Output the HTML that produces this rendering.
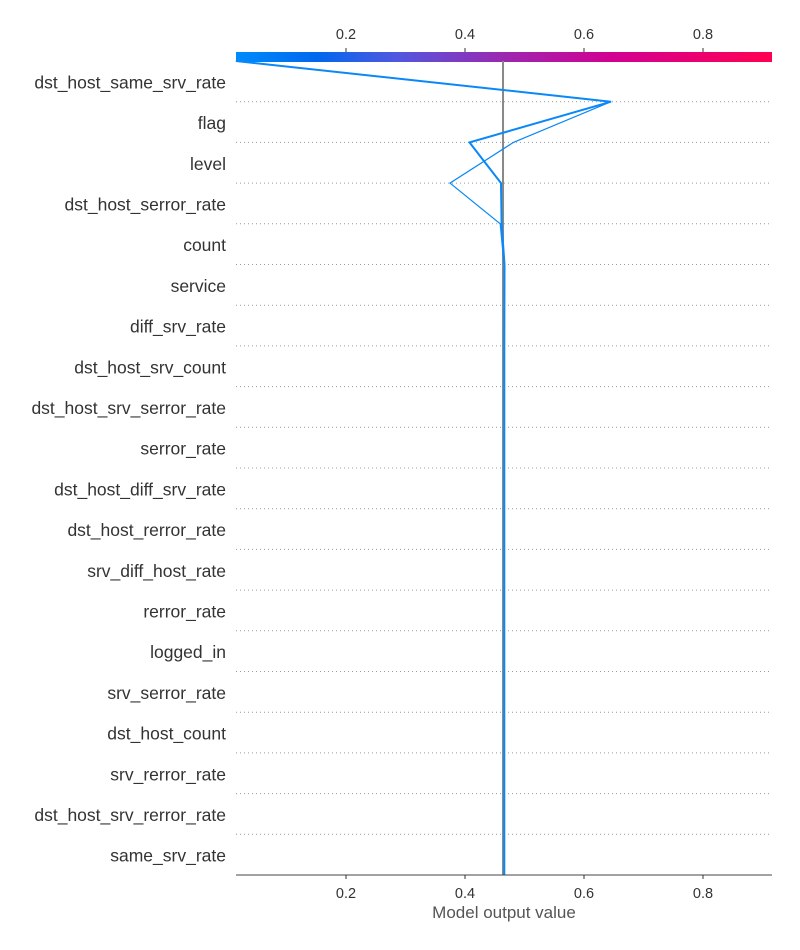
<!DOCTYPE html>
<html><head><meta charset="utf-8"><style>
html,body{margin:0;padding:0;background:#fff;}
svg{display:block;font-family:"Liberation Sans",sans-serif;}
</style></head><body>
<svg id="chart" width="800" height="950"></svg>
<script>
const features = ["dst_host_same_srv_rate","flag","level","dst_host_serror_rate","count","service","diff_srv_rate","dst_host_srv_count","dst_host_srv_serror_rate","serror_rate","dst_host_diff_srv_rate","dst_host_rerror_rate","srv_diff_host_rate","rerror_rate","logged_in","srv_serror_rate","dst_host_count","srv_rerror_rate","dst_host_srv_rerror_rate","same_srv_rate"];
const seriesA = [0.015,0.6454,0.4076,0.4605,0.4615,0.4664,0.4662,0.466,0.466,0.466,0.466,0.466,0.466,0.466,0.466,0.466,0.466,0.466,0.466,0.466,0.466];
const seriesB = [0.015,0.6454,0.4813,0.3748,0.4592,0.4655,0.4655,0.4655,0.4655,0.4655,0.4655,0.4655,0.4655,0.4655,0.4655,0.4655,0.4655,0.4655,0.4655,0.4655,0.4655];
const baseValue = [0.4639];
const tickLabels = [0.2,0.4,0.6,0.8];
const xDomain = [0.0151,0.916];

const NS="http://www.w3.org/2000/svg";
const svg=document.getElementById('chart');
const L=236,R=772,T=61,B=875;
const x=v=>L+(v-xDomain[0])/(xDomain[1]-xDomain[0])*(R-L);
const bandH=(B-T)/features.length;
const y=i=>T+i*bandH;
function mk(tag,attrs,parent){const e=document.createElementNS(NS,tag);for(const k in attrs)e.setAttribute(k,attrs[k]);(parent||svg).appendChild(e);return e;}

const defs=mk('defs',{});
const g=mk('linearGradient',{id:'cb',x1:'0',x2:'1',y1:'0',y2:'0'},defs);
[[0,'#008bfb'],[0.15,'#0068ee'],[0.3,'#5157df'],[0.5,'#9c27b0'],[0.7,'#d20092'],[1,'#ff0052']].forEach(s=>mk('stop',{offset:s[0],'stop-color':s[1]},g));

const cb=mk('rect',{x:L,y:52,width:R-L,height:10,fill:'url(#cb)'});



features.forEach((f,i)=>{
  if(i>0){const gl=mk('line',{x1:L,x2:R,y1:y(i),y2:y(i),stroke:'#999','stroke-width':1,'stroke-dasharray':'1,3'});
    
    }
  const t=mk('text',{x:226,y:y(i)+bandH/2+7,'text-anchor':'end','font-size':17.5,fill:'#333'});
  t.textContent=f;
  
  
});

const bl=mk('line',{x1:x(baseValue[0]),x2:x(baseValue[0]),y1:T,y2:B,stroke:'#888','stroke-width':2});



function path(arr,w,name){
  const d=arr.map((v,i)=>(i?'L':'M')+x(v).toFixed(1)+','+y(i).toFixed(1)).join(' ');
  const p=mk('path',{d:d,fill:'none',stroke:'#0a88f8','stroke-width':w,'stroke-linejoin':'miter'});
  
  
}
path(seriesB,1.2,'decision-line-b');
path(seriesA,2,'decision-line-a');

const ax=mk('line',{x1:L,x2:R,y1:B,y2:B,stroke:'#444','stroke-width':1});


tickLabels.forEach(v=>{
  mk('line',{x1:x(v),x2:x(v),y1:B,y2:B+4,stroke:'#333'});
  const t=mk('text',{x:x(v),y:B+23,'text-anchor':'middle','font-size':14.5,fill:'#333'});
  t.textContent=v.toFixed(1);
  
  
  mk('line',{x1:x(v),x2:x(v),y1:48,y2:52,stroke:'#333'});
  const t2=mk('text',{x:x(v),y:39,'text-anchor':'middle','font-size':14.5,fill:'#333'});
  t2.textContent=v.toFixed(1);
  
  
});
const xt=mk('text',{x:504,y:918,'text-anchor':'middle','font-size':17,fill:'#555'});
xt.textContent='Model output value';


</script>
</body></html>
